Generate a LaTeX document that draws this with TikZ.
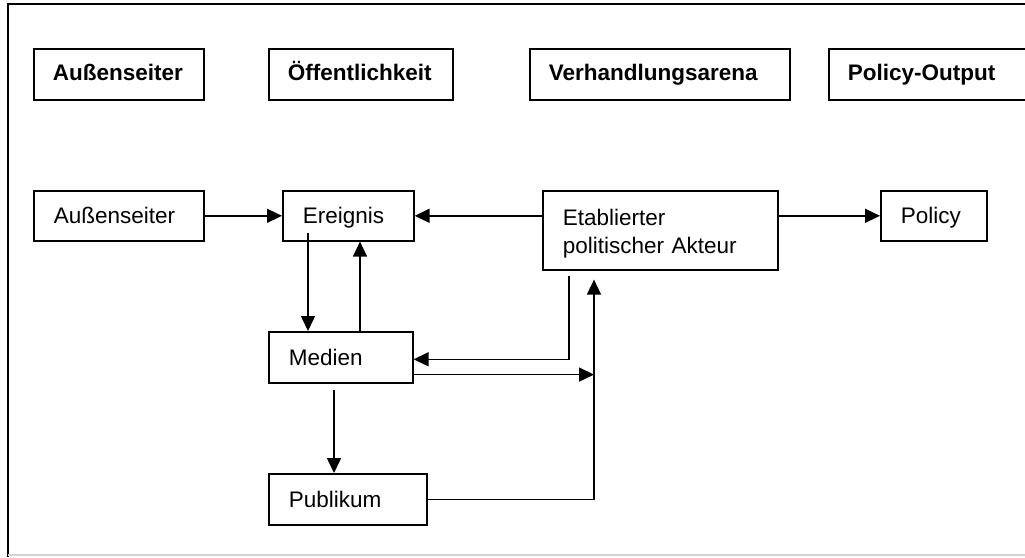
\documentclass[tikz,border=0pt]{standalone}
\usepackage{fontspec}
\setmainfont{Liberation Sans}
\usetikzlibrary{arrows.meta,calc}

\begin{document}
\begin{tikzpicture}[
    x=1pt, y=-1pt,
    headbox/.style={draw, line width=1.6pt, anchor=north west, inner xsep=19pt, inner ysep=0pt, minimum height=51pt, text height=17pt, text depth=4pt, align=left, font=\fontsize{22.5}{28}\selectfont\bfseries},
    flowbox/.style={draw, line width=1.6pt, anchor=north west, inner xsep=20pt, inner ysep=0pt, minimum height=50pt, text height=18pt, text depth=2pt, align=left, font=\fontsize{22.5}{28}\selectfont},
    flow/.style={line width=1.6pt, -{Triangle[length=15pt,width=14pt]}},
    frame/.style={line width=2pt}
]
\useasboundingbox (0,0) rectangle (1025,557);
\clip (0,0) rectangle (1025,557);

% Outer frame (cut off on the right)
\draw[frame] (8,557) -- (8,4) -- (1025,4);
\draw[gray!35, line width=1.5pt] (8,555) -- (1025,555);

% Column headings
\node[headbox, text width=132pt] (hAussen) at (33,48)  {Außenseiter};
\node[headbox, text width=146pt] (hOeff)   at (268,48) {Öffentlichkeit};
\node[headbox, text width=222pt] (hVerh)   at (529,48) {Verhandlungsarena};
\node[headbox, text width=174pt] (hOutput) at (828,48) {Policy-Output};

% Actors and arenas
\node[flowbox, text width=130pt] (aussen)   at (33,190)  {Außenseiter};
\node[flowbox, text width=91pt]  (ereignis) at (282,190) {Ereignis};
\node[flowbox, text width=195pt, minimum height=79pt, text depth=27pt] (akteur) at (542,190) {Etablierter\\politischer Akteur};
\node[flowbox, text width=66pt]  (policy)   at (880,190) {Policy};
\node[flowbox, text width=104pt, minimum height=51pt] (medien)   at (268,331) {Medien};
\node[flowbox, text width=118pt, minimum height=51pt] (publikum) at (268,473) {Publikum};

% Helper points for the connectors
\coordinate (upTip)     at ([xshift=52pt,yshift=-9pt]akteur.south west);
\coordinate (downStart) at ([xshift=27pt,yshift=-5pt]akteur.south west);
\coordinate (evDown)    at ([xshift=26pt,yshift=9pt]ereignis.south west);
\coordinate (mdUp)      at ([xshift=92pt]medien.north west);
\coordinate (mdRight)   at ([yshift=9pt]medien.south east);
\coordinate (mdDown)    at ([xshift=66pt,yshift=-6pt]medien.south west);

% Top row
\draw[flow] (aussen.east) -- (ereignis.west);
\draw[flow] (akteur.west |- ereignis.east) -- (ereignis.east);
\draw[flow] (akteur.east |- policy.west) -- (policy.west);

% Ereignis <-> Medien
\draw[flow] (evDown) -- (evDown |- medien.north);
\draw[flow] (mdUp) -- (mdUp |- ereignis.south);

% Akteur -> Medien, Medien -> loop
\draw[flow] (downStart) |- ([yshift=-2pt]medien.east);
\draw[flow] (mdRight) -- (mdRight -| upTip);

% Medien -> Publikum -> Akteur
\draw[flow] (mdDown) -- (mdDown |- publikum.north);
\draw[flow] (publikum.east) -| (upTip);

\end{tikzpicture}
\end{document}
